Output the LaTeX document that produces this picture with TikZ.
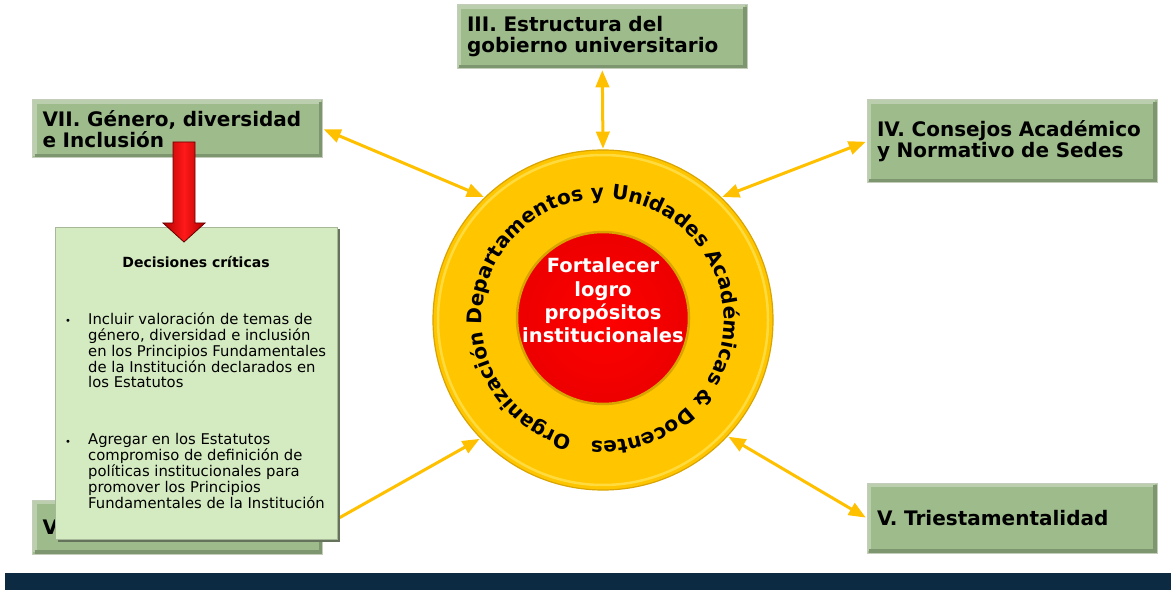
\documentclass[tikz,border=0pt]{standalone}
\usepackage{fontspec}
\setmainfont{DejaVu Sans}
\usetikzlibrary{arrows,shapes,shadows,decorations.text,positioning}

\definecolor{boxgreen}{HTML}{9EBB8C}
\definecolor{boxedge}{HTML}{C3CDBA}
\definecolor{notegreen}{HTML}{D4EBC2}
\definecolor{noteedge}{HTML}{A7B898}
\definecolor{noteshade}{HTML}{66735C}
\definecolor{ringgold}{HTML}{FFC600}
\definecolor{ringedge}{HTML}{D9A300}
\definecolor{ringlight}{HTML}{FFE45C}
\definecolor{linkgold}{HTML}{FFC000}
\definecolor{navyband}{HTML}{0C2A42}

\newcommand{\boxfont}{\fontsize{20}{21}\selectfont\bfseries}
\newcommand{\notefont}{\fontsize{14.8}{15.8}\selectfont}
\newcommand{\corefont}{\fontsize{19.5}{23.3}\selectfont\bfseries}
\newcommand{\ringfont}{\fontsize{20.1}{22}\selectfont\bfseries}

\begin{document}
\begin{tikzpicture}[x=1pt,y=1pt,>=triangle 45,
    area/.style={rectangle, draw=boxedge, fill=boxgreen, line width=1pt,
                 text width=270pt, inner xsep=10pt, inner ysep=0pt,
                 align=left, font=\boxfont,
                 path picture={
                   \draw[boxgreen!70!white, line width=4pt]
                     ([shift={(2pt,2pt)}]path picture bounding box.south west)
                     |- ([shift={(-2pt,-2pt)}]path picture bounding box.north east);
                   \draw[boxgreen!80!black, line width=4pt]
                     ([shift={(2pt,2pt)}]path picture bounding box.south west)
                     -| ([shift={(-2pt,-2pt)}]path picture bounding box.north east);}},
    link/.style={draw=linkgold, line width=3pt, shorten >=1pt, shorten <=1pt},
    note/.style={anchor=base west, inner sep=0pt, align=left, font=\notefont}]

  \useasboundingbox (0,0) rectangle (1171,590);
  \fill[navyband] (5,0) rectangle (1171,17);

  % the six areas
  \node[area, minimum height=64pt] (III) at (602,553) {III. Estructura del\\gobierno universitario};
  \node[area, minimum height=58pt] (VII) at (177.5,461) {VII. Género, diversidad\\e Inclusión};
  \node[area, minimum height=83pt] (IV)  at (1012,448.5) {IV. Consejos Académico\\y Normativo de Sedes};
  \node[area, minimum height=70pt] (V)   at (1012,72) {V. Triestamentalidad};
  \node[area, minimum height=54pt] (VI)  at (177.5,63) {V};

  % ring and core
  \node[circle, minimum size=340pt, fill=ringgold, draw=ringedge, line width=1.2pt] (ring) at (603,270) {};
  \draw[ringlight, line width=2.5pt, opacity=.7] (ring.center) circle[radius=165pt];
  \node[circle, minimum size=172pt, inner color=red, outer color=red!93!black,
        draw=ringedge, line width=2.5pt] (core) at (603,272) {};
  \node[font=\corefont, text=white, align=center] (goal) at (603,289.5)
       {Fortalecer\\logro\\propósitos\\institucionales};
  \path[decorate, decoration={text along path, text align=center,
        text={|\ringfont|Organización Departamentos y Unidades Académicas {\&} Docentes}}]
    ([shift={(260:121pt)}]ring.center) arc[start angle=260, end angle=-100, radius=121pt];

  \draw[link,<->] (III) -- (ring.90);
  \draw[link,<->] (VII.east) -- (ring.134);
  \draw[link,<->] (IV.west) -- (ring.46);
  \draw[link,<->] (V.west) -- (ring.-43);
  \draw[link,->]  (VI.east) -- (ring.224);

  % decisions box
  \node[rectangle, fill=notegreen, draw=noteedge, minimum width=282pt, minimum height=312pt,
        drop shadow={shadow xshift=2.5pt, shadow yshift=-2.5pt, fill=noteshade, opacity=1}]
       (dec) at (196,207) {};
  \node[anchor=base, inner sep=0pt, font=\fontsize{14}{16}\selectfont\bfseries] (dtitle) at (196,322)
       {Decisiones críticas};
  \node[note, font=\fontsize{10}{12}\selectfont] (m1) at (65,265) {•};
  \node[note] (b1) at (88,202) {Incluir valoración de temas de\\género, diversidad e inclusión\\en los Principios Fundamentales\\de la Institución declarados en\\los Estatutos};
  \node[note, font=\fontsize{10}{12}\selectfont] (m2) at (65,145) {•};
  \node[note] (b2) at (88,82) {Agregar en los Estatutos\\compromiso de definición de\\políticas institucionales para\\promover los Principios\\Fundamentales de la Institución};

  % red arrow
  \draw[left color=red!70!black, right color=red!70!black, middle color=red!90!white,
        draw=red!40!black, line width=0.8pt]
    (173,448) -- (195,448) -- (195,367) -- (205,367) -- (184,348) -- (163,367) -- (173,367) -- cycle;
\end{tikzpicture}
\end{document}
